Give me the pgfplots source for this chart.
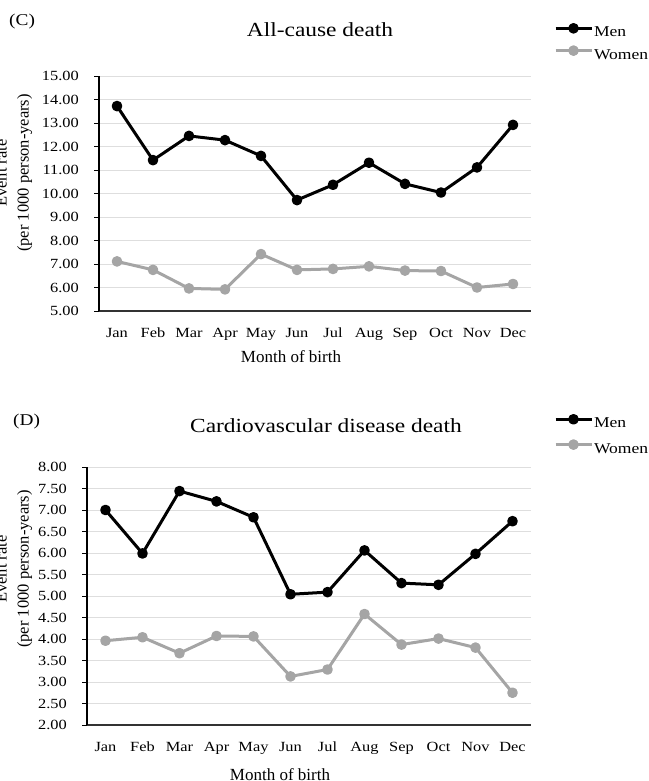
\documentclass[border=0pt]{standalone}
\usepackage{fontspec}
\setmainfont{Liberation Serif}
\newfontfamily\sfont{Liberation Serif}[FakeStretch=1.17]
\usepackage{pgfplots}
\pgfplotsset{compat=1.18}
\definecolor{wgray}{HTML}{A5A5A5}
\definecolor{gridc}{HTML}{DEDEDE}
\pgfplotsset{
  mystyle/.style={
    scale only axis,
    anchor=south west,
    xmin=-0.5, xmax=11.5,
    xtick={0,...,11},
    xticklabels={Jan,Feb,Mar,Apr,May,Jun,Jul,Aug,Sep,Oct,Nov,Dec},
    axis x line*=bottom, axis y line*=left,
    axis line style={-},
    x axis line style={line width=1.3pt, draw=black!80},
    y axis line style={line width=1.1pt, draw=black},
    ymajorgrids, grid style={gridc, line width=0.9pt},
    tick align=outside,
    major tick length=5pt,
    xtick style={draw=none},
    ytick style={black, line width=0.9pt},
    tick label style={font=\sfont\fontsize{14}{16}\selectfont},
    /pgf/number format/assume math mode=true,
    yticklabel style={/pgf/number format/fixed, /pgf/number format/fixed zerofill,
      /pgf/number format/precision=2, anchor=east, inner sep=0pt, xshift=-15pt},
    xticklabel style={anchor=base, inner sep=0pt, yshift=-22pt},
    legend style={draw=none, fill=none, inner sep=0pt, outer sep=0pt,
      font=\sfont\fontsize{15}{17}\selectfont,
      nodes={inner sep=0pt, text height=10pt, text depth=3pt},
      column sep=1pt},
    legend cell align=left,
    legend image code/.code={\draw[mark repeat=2,mark phase=2,##1] plot coordinates {(0pt,5pt) (18pt,5pt) (36pt,5pt)};},
  },
  men/.style={black, line width=3pt, line join=round, mark=*, mark size=3.8pt, mark options={solid, fill=black}},
  women/.style={wgray, line width=3pt, line join=round, mark=*, mark size=3.8pt, mark options={solid, fill=wgray}},
}
\begin{document}
\begin{tikzpicture}
\path[use as bounding box] (0,0) rectangle (648pt,781pt);

% ---------- (C) All-cause death ----------
\begin{axis}[mystyle,
  at={(99pt,470pt)}, width=432pt, height=235pt,
  ymin=5, ymax=15, ytick={5,6,...,15},
  legend style={at={(1.0533,1.219)}, anchor=north west, row sep=7pt},
]
\addplot[men] coordinates {(0,13.72) (1,11.42) (2,12.45) (3,12.27) (4,11.60) (5,9.72) (6,10.37) (7,11.31) (8,10.41) (9,10.04) (10,11.11) (11,12.92)};
\addplot[women] coordinates {(0,7.11) (1,6.75) (2,5.96) (3,5.92) (4,7.42) (5,6.75) (6,6.79) (7,6.90) (8,6.72) (9,6.70) (10,6.00) (11,6.15)};
\legend{Men,Women}
\end{axis}

% ---------- (D) Cardiovascular disease death ----------
\begin{axis}[mystyle,
  at={(87pt,56pt)}, width=444pt, height=258pt,
  ymin=2, ymax=8, ytick={2,2.5,...,8},
  legend style={at={(1.0518,1.1996)}, anchor=north west, row sep=10pt},
]
\addplot[men] coordinates {(0,7.00) (1,5.99) (2,7.44) (3,7.20) (4,6.83) (5,5.04) (6,5.09) (7,6.06) (8,5.30) (9,5.26) (10,5.98) (11,6.74)};
\addplot[women] coordinates {(0,3.96) (1,4.04) (2,3.67) (3,4.07) (4,4.06) (5,3.13) (6,3.29) (7,4.58) (8,3.87) (9,4.01) (10,3.80) (11,2.75)};
\legend{Men,Women}
\end{axis}

% ---------- texts ----------
\node[font=\sfont\fontsize{20}{24}\selectfont, anchor=base] at (320pt,744pt) {All-cause death};
\node[font=\sfont\fontsize{16.5}{20}\selectfont, anchor=base west, inner sep=0pt] at (9pt,755pt) {(C)};
\node[font=\fontsize{16.5}{22}\selectfont, align=center, rotate=90] at (14pt,608pt) {Event rate\\(per 1000 person-years)};
\node[font=\fontsize{17}{20}\selectfont, anchor=base, inner sep=0pt] at (291pt,418pt) {Month of birth};

\node[font=\sfont\fontsize{20}{24}\selectfont, anchor=base] at (326pt,348pt) {Cardiovascular disease death};
\node[font=\sfont\fontsize{16.5}{20}\selectfont, anchor=base west, inner sep=0pt] at (13pt,355pt) {(D)};
\node[font=\fontsize{16.5}{22}\selectfont, align=center, rotate=90] at (14pt,212pt) {Event rate\\(per 1000 person-years)};
\node[font=\fontsize{17}{20}\selectfont, anchor=base, inner sep=0pt] at (280pt,1pt) {Month of birth};
\end{tikzpicture}
\end{document}
